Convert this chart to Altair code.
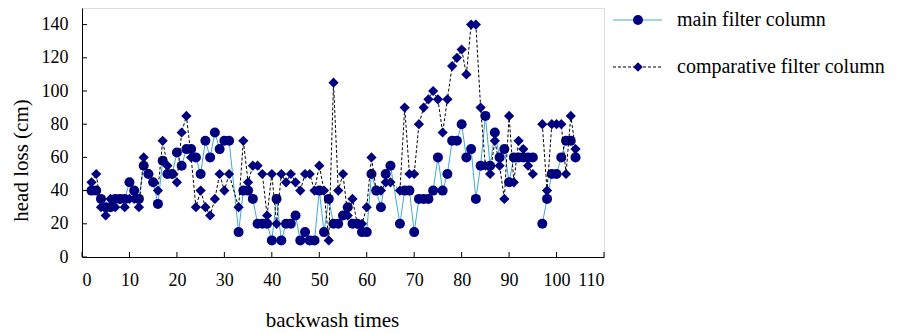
import altair as alt
import pandas as pd

# backwash index (x) -- 32 and 66 not present, 96 is a gap
x_vals = [2, 3, 4, 5, 6, 7, 8, 9, 10, 11, 12, 13, 14, 15, 16, 17, 18, 19, 20, 21,
          22, 23, 24, 25, 26, 27, 28, 29, 30, 31, 33, 34, 35, 36, 37, 38, 39, 40, 41, 42,
          43, 44, 45, 46, 47, 48, 49, 50, 51, 52, 53, 54, 55, 56, 57, 58, 59, 60, 61, 62,
          63, 64, 65, 67, 68, 69, 70, 71, 72, 73, 74, 75, 76, 77, 78, 79, 80, 81, 82, 83,
          84, 85, 86, 87, 88, 89, 90, 91, 92, 93, 94, 95, 96, 97, 98, 99, 100, 101, 102, 103, 104]

main_vals = [40, 40, 35, 30, 30, 35, 35, 35, 45, 40, 35, 55, 50, 45, 32, 58, 50, 50, 63, 55,
             65, 65, 60, 50, 70, 60, 75, 65, 70, 70, 15, 40, 40, 35, 20, 20, 20, 10, 35, 10,
             20, 20, 25, 10, 15, 10, 10, 40, 15, 35, 20, 20, 25, 30, 20, 20, 15, 15, 50, 40,
             30, 50, 55, 20, 40, 40, 15, 35, 35, 35, 40, 60, 40, 50, 70, 70, 80, 60, 65, 35,
             55, 85, 55, 75, 60, 65, 45, 60, 60, 60, 60, 60, None, 20, 35, 50, 50, 60, 70, 70, 60]

comp_vals = [45, 50, 30, 25, 35, 30, 35, 30, 35, 35, 30, 60, 50, 45, 40, 70, 55, 50, 45, 75,
             85, 60, 30, 40, 30, 25, 35, 50, 40, 50, 30, 70, 45, 55, 55, 50, 25, 50, 20, 50,
             45, 50, 45, 40, 50, 50, 40, 55, 40, 10, 105, 40, 50, 25, 35, 20, 20, 30, 60, 40,
             40, 45, 45, 40, 90, 50, 50, 80, 90, 95, 100, 95, 75, 95, 115, 120, 125, 110, 140, 140,
             90, 55, 50, 70, 55, 35, 85, 45, 70, 65, 55, 50, None, 80, 40, 80, 80, 80, 50, 85, 65]

series_names = ["main filter column", "comparative filter column"]
x_ticks = [0, 10, 20, 30, 40, 50, 60, 70, 80, 90, 100, 110]
y_ticks = [0, 20, 40, 60, 80, 100, 120, 140]

NAVY = "#000080"
BLUE = "#3FA9D8"
FONT = "Liberation Serif"
W, H = 522, 249


def build(vals):
    rows, seg = [], 0
    for xv, yv in zip(x_vals, vals):
        if yv is None:
            seg += 1
            continue
        rows.append({"x": xv, "y": yv, "seg": seg})
    return pd.DataFrame(rows)


df_main = build(main_vals)
df_comp = build(comp_vals)

xs = alt.Scale(domain=[0, 110], nice=False, zero=False)
ys = alt.Scale(domain=[0, 150], nice=False)

x_axis = alt.Axis(values=x_ticks, title="backwash times", ticks=False, grid=False,
                  labelOverlap=False,
                  labelPadding=14, labelFontSize=18, labelFont=FONT, labelColor="black",
                  titleFont=FONT, titleFontSize=21, titleFontWeight="normal", titleColor="black",
                  titlePadding=20, titleX=250, titleAlign="center",
                  domainColor="black", domainWidth=1)
y_axis = alt.Axis(values=y_ticks, title="head loss (cm)", ticks=False, grid=False,
                  labelOverlap=False,
                  labelPadding=14, labelFontSize=18, labelFont=FONT, labelColor="black",
                  titleFont=FONT, titleFontSize=21, titleFontWeight="normal", titleColor="black",
                  titleAngle=270, titleX=-61, titleY=152, titleAlign="center",
                  titleBaseline="middle", domainColor="black", domainWidth=1)

main_line = alt.Chart(df_main).mark_line(color=BLUE, strokeWidth=1).encode(
    x=alt.X("x:Q", scale=xs, axis=x_axis),
    y=alt.Y("y:Q", scale=ys, axis=y_axis),
    detail="seg:N",
)
main_pts = alt.Chart(df_main).mark_point(shape="circle", filled=True, color=NAVY,
                                          opacity=1, size=100).encode(
    x=alt.X("x:Q", scale=xs, axis=x_axis), y=alt.Y("y:Q", scale=ys, axis=y_axis))

comp_line = alt.Chart(df_comp).mark_line(color="black", strokeWidth=1,
                                          strokeDash=[3, 2]).encode(
    x=alt.X("x:Q", scale=xs, axis=x_axis), y=alt.Y("y:Q", scale=ys, axis=y_axis),
    detail="seg:N")
comp_pts = alt.Chart(df_comp).mark_point(shape="diamond", filled=True, color=NAVY,
                                          opacity=1, size=105).encode(
    x=alt.X("x:Q", scale=xs, axis=x_axis), y=alt.Y("y:Q", scale=ys, axis=y_axis))

# inward tick marks
yt = alt.Chart(pd.DataFrame({"y": y_ticks})).mark_rule(color="black", strokeWidth=1).encode(
    y=alt.Y("y:Q", scale=ys, axis=y_axis), x=alt.value(0), x2=alt.value(5))
xt = alt.Chart(pd.DataFrame({"x": x_ticks})).mark_rule(color="black", strokeWidth=1).encode(
    x=alt.X("x:Q", scale=xs, axis=x_axis), y=alt.value(H), y2=alt.value(H - 5))

# manual legend
one = pd.DataFrame({"k": [0]})
leg = []
for i, name in enumerate(series_names):
    yy = 12 + 47 * i
    if i == 0:
        ln = alt.Chart(one).mark_rule(color=BLUE, strokeWidth=1)
        shp = "circle"
        sz = 100
    else:
        ln = alt.Chart(one).mark_rule(color="black", strokeWidth=1, strokeDash=[3, 2])
        shp = "diamond"
        sz = 90
    leg.append(ln.encode(x=alt.value(531), x2=alt.value(580), y=alt.value(yy)))
    leg.append(alt.Chart(one).mark_point(shape=shp, filled=True, color=NAVY, opacity=1,
                                         size=sz).encode(x=alt.value(556), y=alt.value(yy)))
    leg.append(alt.Chart(one).mark_text(align="left", baseline="middle", font=FONT,
                                        fontSize=20, color="black").encode(
        x=alt.value(595), y=alt.value(yy), text=alt.value(name)))

chart = alt.layer(main_line, main_pts, comp_line, comp_pts, yt, xt, *leg).properties(
    width=W, height=H,
    autosize=alt.AutoSizeParams(type="none"),
    padding={"left": 74, "top": 0, "right": 286, "bottom": 76},
).configure_view(stroke=None).configure_axis(labelOverlap=False).configure(background="white")

chart.save("out.html", embed_options={"renderer": "svg", "actions": False})
